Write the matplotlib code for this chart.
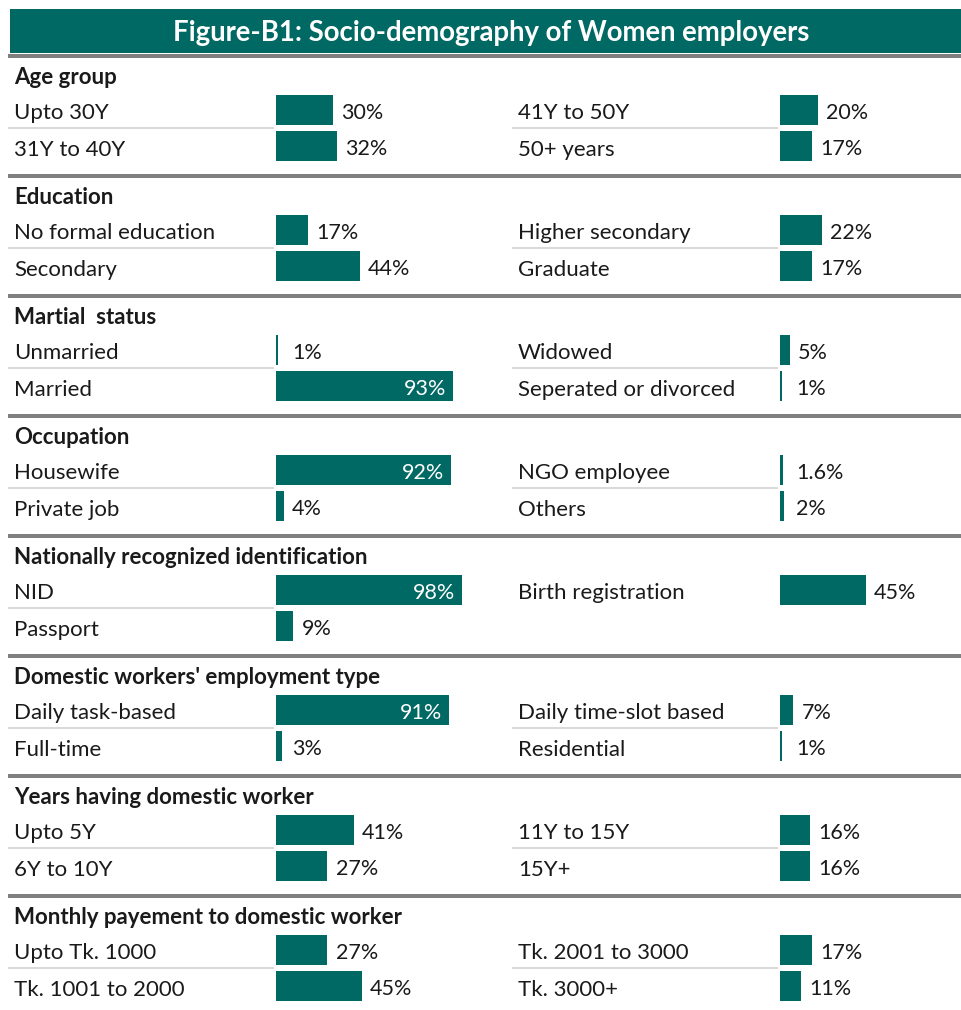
import matplotlib.pyplot as plt
from matplotlib.patches import Rectangle

plt.rcParams['font.family'] = ['Lato', 'DejaVu Sans']

title = "Figure-B1: Socio-demography of Women employers"

sections = ["Age group", "Education", "Martial  status", "Occupation",
            "Nationally recognized identification",
            "Domestic workers' employment type",
            "Years having domestic worker",
            "Monthly payement to domestic worker"]

left_labels = [["Upto 30Y", "31Y to 40Y"],
               ["No formal education", "Secondary"],
               ["Unmarried", "Married"],
               ["Housewife", "Private job"],
               ["NID", "Passport"],
               ["Daily task-based", "Full-time"],
               ["Upto 5Y", "6Y to 10Y"],
               ["Upto Tk. 1000", "Tk. 1001 to 2000"]]
left_values = [[30, 32], [17, 44], [1, 93], [92, 4],
               [98, 9], [91, 3], [41, 27], [27, 45]]

right_labels = [["41Y to 50Y", "50+ years"],
                ["Higher secondary", "Graduate"],
                ["Widowed", "Seperated or divorced"],
                ["NGO employee", "Others"],
                ["Birth registration"],
                ["Daily time-slot based", "Residential"],
                ["11Y to 15Y", "15Y+"],
                ["Tk. 2001 to 3000", "Tk. 3000+"]]
right_values = [[20, 17], [22, 17], [5, 1], [1.6, 2],
                [45], [7, 1], [16, 16], [17, 11]]

W, H = 961, 1010
teal = '#006964'
dark_rule = '#7f7f7f'
light_rule = '#d9d9d9'
ink = '#1a1a1a'

fig = plt.figure(figsize=(W / 100, H / 100), dpi=100)
ax = fig.add_axes([0, 0, 1, 1])
ax.set_xlim(0, W)
ax.set_ylim(H, 0)
ax.axis('off')

# title band
ax.add_patch(Rectangle((10, 9), W - 10, 44, color=teal, lw=0))
ax.text(491, 33, title, color='white', fontsize=19.8, fontweight='bold',
        ha='center', va='center')


def fmt(v):
    return f"{v:g}%"


def bar_panel(x0, top, values):
    # 100% spans 190 px; two rows of 36 px each
    a = fig.add_axes([x0 / W, 1 - (top + 72) / H, 190 / W, 72 / H])
    a.set_xlim(0, 100)
    a.set_ylim(1.5, -0.5)
    a.axis('off')
    rows = list(range(len(values)))
    a.barh(rows, values, height=0.83, color=teal, lw=0)
    for r, v in zip(rows, values):
        if v >= 90:
            a.annotate(fmt(v), (v, r), xytext=(-5, -2), textcoords='offset points',
                       ha='right', va='center', color='white', fontsize=15.5)
        else:
            a.annotate(fmt(v), (max(v, 4), r), xytext=(6, -2),
                       textcoords='offset points', ha='left', va='center',
                       color=ink, fontsize=15.5)
    return a


for i, name in enumerate(sections):
    s = 56 + 120 * i
    ax.add_patch(Rectangle((8, s - 2), W - 8, 4, color=dark_rule, lw=0))
    ax.text(14, s + 22, name, fontsize=16, fontweight='bold',
            ha='left', va='center', color=ink)

    for lx, bx, labels, values in ((14, 276, left_labels[i], left_values[i]),
                                   (518, 780, right_labels[i], right_values[i])):
        for r, lab in enumerate(labels):
            ax.text(lx, s + 57 + 37 * r, lab, fontsize=16, ha='left',
                    va='center', color=ink)
        if len(labels) > 1:
            ax.add_patch(Rectangle((lx - 6, s + 71), bx - lx + 4, 2,
                                   color=light_rule, lw=0))
        bar_panel(bx, s + 36, values)

fig.savefig('out.png', dpi=100)
